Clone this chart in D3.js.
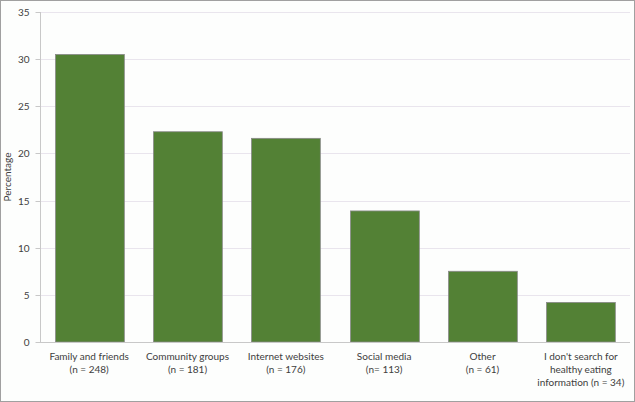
<!DOCTYPE html>
<html><head><meta charset="utf-8">
<script src="https://cdn.jsdelivr.net/npm/d3@7"></script>
<style>
html,body{margin:0;padding:0;background:#fff;}
svg{display:block;}
text{font-family:Lato,"Open Sans",sans-serif;fill:#404040;}
</style></head><body>
<script>
const categories = [
  ["Family and friends","(n = 248)"],
  ["Community groups","(n = 181)"],
  ["Internet websites","(n = 176)"],
  ["Social media","(n= 113)"],
  ["Other","(n = 61)"],
  ["I don't search for","healthy eating","information (n = 34)"]
];
const values = [30.5, 22.3, 21.6, 13.9, 7.5, 4.2];
const yTicks = [0,5,10,15,20,25,30,35];

const W=635,H=402;
const m={l:40,r:5,t:12,b:60};
const svg=d3.select("body").append("svg").attr("width",W).attr("height",H);
svg.append("rect").attr("x",0.5).attr("y",0.5).attr("width",W-1).attr("height",H-1)
  .attr("fill","#fdfefd").attr("stroke","#a0a0a0");

const x=d3.scaleBand().domain(categories.map((d,i)=>i)).range([m.l,W-m.r]).paddingInner(0.3).paddingOuter(0.15);
const y=d3.scaleLinear().domain([0,35]).range([H-m.b,m.t]);

// gridlines
svg.append("g").selectAll("line").data(yTicks.filter(t=>t>0)).join("line")
  .attr("x1",m.l).attr("x2",W-m.r).attr("y1",d=>Math.round(y(d))+0.5).attr("y2",d=>Math.round(y(d))+0.5)
  .attr("stroke","#e9e5ed").attr("stroke-width",1);

// y axis
const ya=svg.append("g").attr("transform",`translate(${m.l+0.5},0)`)
  .call(d3.axisLeft(y).tickValues(yTicks).tickSize(5).tickPadding(6));
ya.select(".domain").attr("stroke","#c8c8c8").attr("d",`M0,${y(35)}V${y(0)}`);
ya.selectAll(".tick line").attr("stroke","#c8c8c8");
ya.selectAll(".tick text").attr("font-size",10).attr("fill","#595959").style("font-family","Lato,sans-serif");
ya.selectAll(".tick").attr("transform",d=>`translate(0,${Math.round(y(d))+0.5})`);

// bars
svg.append("g").selectAll("rect").data(values).join("rect")
  .attr("x",(d,i)=>Math.round(x(i))+0.5).attr("width",x.bandwidth())
  .attr("y",d=>y(d)).attr("height",d=>y(0)-y(d))
  .attr("fill","#538135").attr("stroke","#8a8a8a").attr("stroke-width",0.8);

// x axis line
svg.append("line").attr("x1",m.l).attr("x2",W-m.r).attr("y1",Math.round(y(0))+0.5).attr("y2",Math.round(y(0))+0.5)
  .attr("stroke","#c8c8c8");

// x labels
const xl=svg.append("g").selectAll("text").data(categories).join("text")
  .attr("x",(d,i)=>x(i)+x.bandwidth()/2).attr("y",y(0)+18)
  .attr("text-anchor","middle").attr("font-size",10).attr("fill","#404040");
xl.each(function(d){
  const t=d3.select(this);
  d.forEach((line,j)=>t.append("tspan").attr("x",t.attr("x")).attr("dy",j===0?0:13).text(line));
});

// y label
svg.append("text").attr("transform",`translate(11,${y(17.5)}) rotate(-90)`)
  .attr("text-anchor","middle").attr("font-size",10).attr("fill","#404040").text("Percentage");
</script>
</body></html>
